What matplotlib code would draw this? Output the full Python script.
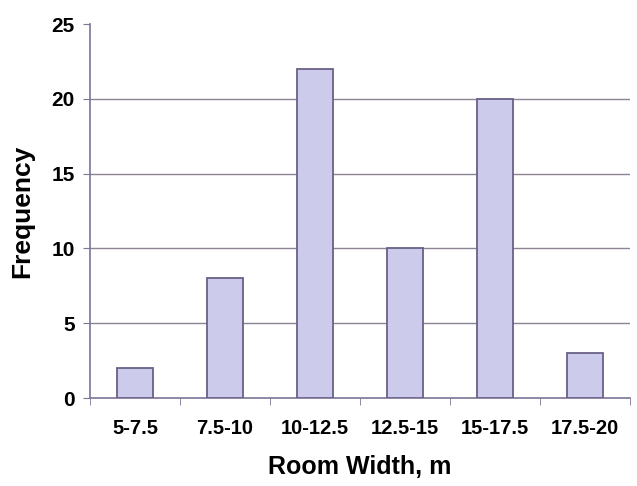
import numpy as np
import matplotlib.pyplot as plt

categories = ['5-7.5', '7.5-10', '10-12.5', '12.5-15', '15-17.5', '17.5-20']
frequency = [2, 8, 22, 10, 20, 3]
yticks = [0, 5, 10, 15, 20, 25]

plt.rcParams['font.family'] = ['Liberation Sans', 'DejaVu Sans']
plt.rcParams['font.weight'] = 'bold'

fig = plt.figure(figsize=(6.37, 4.86), dpi=100)
ax = fig.add_axes([0.1413, 0.181, 0.8477, 0.7696])

x = np.arange(len(categories))
line_col = '#7d7496'
ax.bar(x, frequency, width=0.4, color='#cccbec', edgecolor='#6a6088', linewidth=1.3, zorder=3)

for v in yticks[1:-1]:
    ax.axhline(v, color='#8c8494', linewidth=1.0, zorder=1)

ax.set_xlim(-0.5, len(categories) - 0.5)
ax.set_ylim(0, 25)
ax.set_yticks(yticks)
ax.set_xticks(x)
ax.set_xticklabels(categories)
ax.set_xticks(np.arange(-0.5, len(categories), 1), minor=True)

for s in ['top', 'right']:
    ax.spines[s].set_visible(False)
for s in ['left', 'bottom']:
    ax.spines[s].set_color(line_col)
    ax.spines[s].set_linewidth(1.2)

ax.tick_params(axis='x', which='major', length=0, pad=15, labelsize=14.5)
ax.tick_params(axis='x', which='minor', length=5, color=line_col, direction='out')
ax.tick_params(axis='y', length=5, color=line_col, labelsize=15, pad=6)

ax.set_xlabel('Room Width, m', fontsize=18, fontweight='bold', labelpad=12)
ax.set_ylabel('Frequency', fontsize=19, fontweight='bold', labelpad=12)

plt.savefig('out.png', dpi=100)
